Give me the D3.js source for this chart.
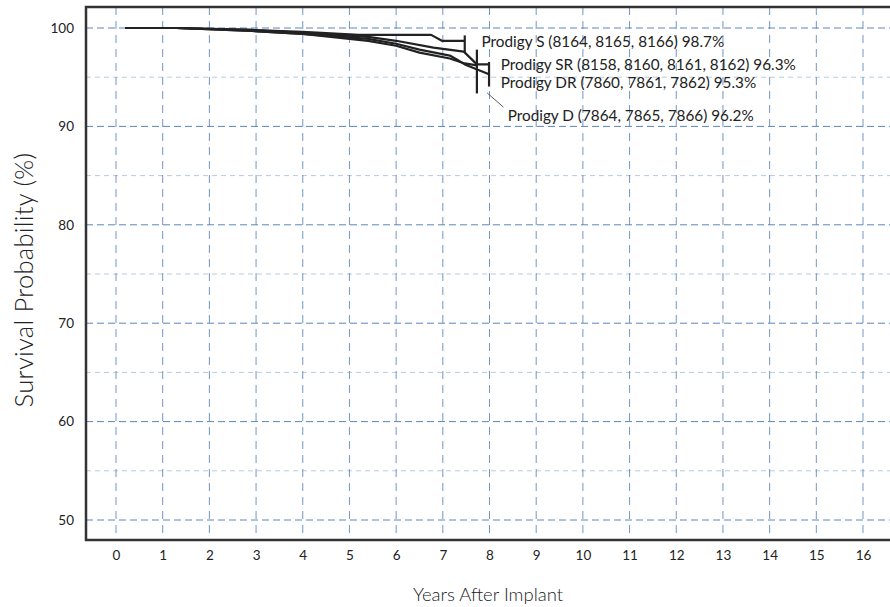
<!DOCTYPE html>
<html><head><meta charset="utf-8">
<script src="https://cdn.jsdelivr.net/npm/d3@7"></script>
<style>
body{margin:0;background:#fff;}
text{font-family:Lato,"Open Sans",sans-serif;}
</style></head>
<body><svg id="c" width="890" height="607"></svg>
<script>
// ---- data ----
const xTicks = [0,1,2,3,4,5,6,7,8,9,10,11,12,13,14,15,16];
const yTicks = [50,60,70,80,90,100];
const yMinor = [55,65,75,85,95];
const seriesNames = ["Prodigy S (8164, 8165, 8166) 98.7%","Prodigy SR (8158, 8160, 8161, 8162) 96.3%","Prodigy DR (7860, 7861, 7862) 95.3%","Prodigy D (7864, 7865, 7866) 96.2%"];
const sYears = [0.2,1.3,2.9,4.0,5.2,6.75,6.98,7.47];
const sVals  = [100,100,99.8,99.6,99.3,99.3,98.7,98.7];
const srYears = [0.2,1.3,2.9,4.0,5.4,6.0,6.8,7.45,7.73,7.99];
const srVals  = [100,100,99.8,99.5,99.1,98.7,98.0,97.6,96.3,96.3];
const drYears = [0.2,1.3,2.9,4.0,5.4,6.0,6.5,7.15,7.3,7.47,7.99];
const drVals  = [100,100,99.7,99.4,98.9,98.4,97.8,97.2,96.8,96.3,95.3];
const dYears = [0.2,1.3,2.9,4.0,5.4,6.0,6.5,7.15,7.47,7.73];
const dVals  = [100,100,99.7,99.4,98.7,98.2,97.5,96.9,96.4,96.2];

const svg = d3.select("#c");
const x = d3.scaleLinear().domain([0,16]).range([116,863]);
const y = d3.scaleLinear().domain([50,100]).range([520,28]);
const L=86, R=900, T=7, B=540;
const major="#5a86bd", minor="#b8cbe2";

// minor horizontal grid
svg.append("g").selectAll("line").data(yMinor).join("line")
 .attr("x1",L).attr("x2",R).attr("y1",d=>y(d)).attr("y2",d=>y(d))
 .attr("stroke",minor).attr("stroke-width",1).attr("stroke-dasharray","5,4");
// vertical grid
svg.append("g").selectAll("line").data(xTicks).join("line")
 .attr("x1",d=>x(d)).attr("x2",d=>x(d)).attr("y1",T).attr("y2",B)
 .attr("stroke",major).attr("stroke-width",1).attr("stroke-dasharray","8,6").attr("opacity",0.85);
// major horizontal grid
svg.append("g").selectAll("line").data(yTicks).join("line")
 .attr("x1",L).attr("x2",R).attr("y1",d=>y(d)).attr("y2",d=>y(d))
 .attr("stroke",major).attr("stroke-width",1).attr("stroke-dasharray","7,4");

// axes
const xa = svg.append("g").attr("transform",`translate(0,${B})`)
 .call(d3.axisBottom(x).tickValues(xTicks).tickSize(0).tickPadding(10));
xa.select(".domain").remove();
xa.selectAll("text").attr("font-size",13.5).attr("fill","#222").attr("font-family","Lato,sans-serif").attr("font-weight",400);
const ya = svg.append("g").attr("transform",`translate(${L},0)`)
 .call(d3.axisLeft(y).tickValues(yTicks).tickSize(0).tickPadding(12));
ya.select(".domain").remove();
ya.selectAll("text").attr("font-size",13.5).attr("fill","#222").attr("font-family","Lato,sans-serif").attr("font-weight",400);

// border
svg.append("path").attr("d",`M${R},${T}H${L}V${B}H${R}`).attr("fill","none")
 .attr("stroke","#333").attr("stroke-width",2.5);

// curves
const series = [
 {name:seriesNames[0], xs:sYears, vs:sVals, tick:[-0.55,1.2]},
 {name:seriesNames[1], xs:srYears, vs:srVals, tick:null},
 {name:seriesNames[2], xs:drYears, vs:drVals, tick:[-1.25,1.25]},
 {name:seriesNames[3], xs:dYears, vs:dVals, tick:[-1.6,2.85]}
];
const line = d3.line().x(d=>x(d[0])).y(d=>y(d[1]));
const cg = svg.append("g");
series.forEach(s=>{
  const pts = s.xs.map((v,i)=>[v,s.vs[i]]);
  cg.append("path").attr("d",line(pts)).attr("fill","none")
    .attr("stroke","#222").attr("stroke-width",2.2).attr("stroke-linejoin","round");
  if(s.tick){
    const e = pts[pts.length-1];
    cg.append("line").attr("x1",x(e[0])).attr("x2",x(e[0]))
      .attr("y1",y(e[1]-s.tick[0])).attr("y2",y(e[1]-s.tick[1]))
      .attr("stroke","#222").attr("stroke-width",2.2);
  }
});

// labels
const lab = svg.append("g").attr("font-size",15.3).attr("fill","#222").attr("font-weight",400);
lab.append("text").attr("x",x(7.83)).attr("y",y(98.7)+6).text(seriesNames[0]);
lab.append("text").attr("x",x(8.24)).attr("y",y(96.3)+6).text(seriesNames[1]);
lab.append("text").attr("x",x(8.24)).attr("y",y(95.3)+13.3).text(seriesNames[2]);
lab.append("text").attr("x",x(8.39)).attr("y",y(91.6)+10).text(seriesNames[3]);
svg.append("line").attr("x1",x(7.95)).attr("y1",y(93.4)).attr("x2",x(8.3)).attr("y2",y(91.95))
 .attr("stroke","#333").attr("stroke-width",0.8);

// axis titles
svg.append("text").attr("x",488).attr("y",601).attr("text-anchor","middle").attr("font-weight",300)
 .attr("font-size",18.5).attr("fill","#222").text("Years After Implant");
svg.append("text").attr("transform","translate(33,280) rotate(-90)").attr("text-anchor","middle").attr("font-weight",300)
 .attr("font-size",25.5).attr("letter-spacing",0.3).attr("fill","#222").text("Survival Probability (%)");
</script></body></html>
